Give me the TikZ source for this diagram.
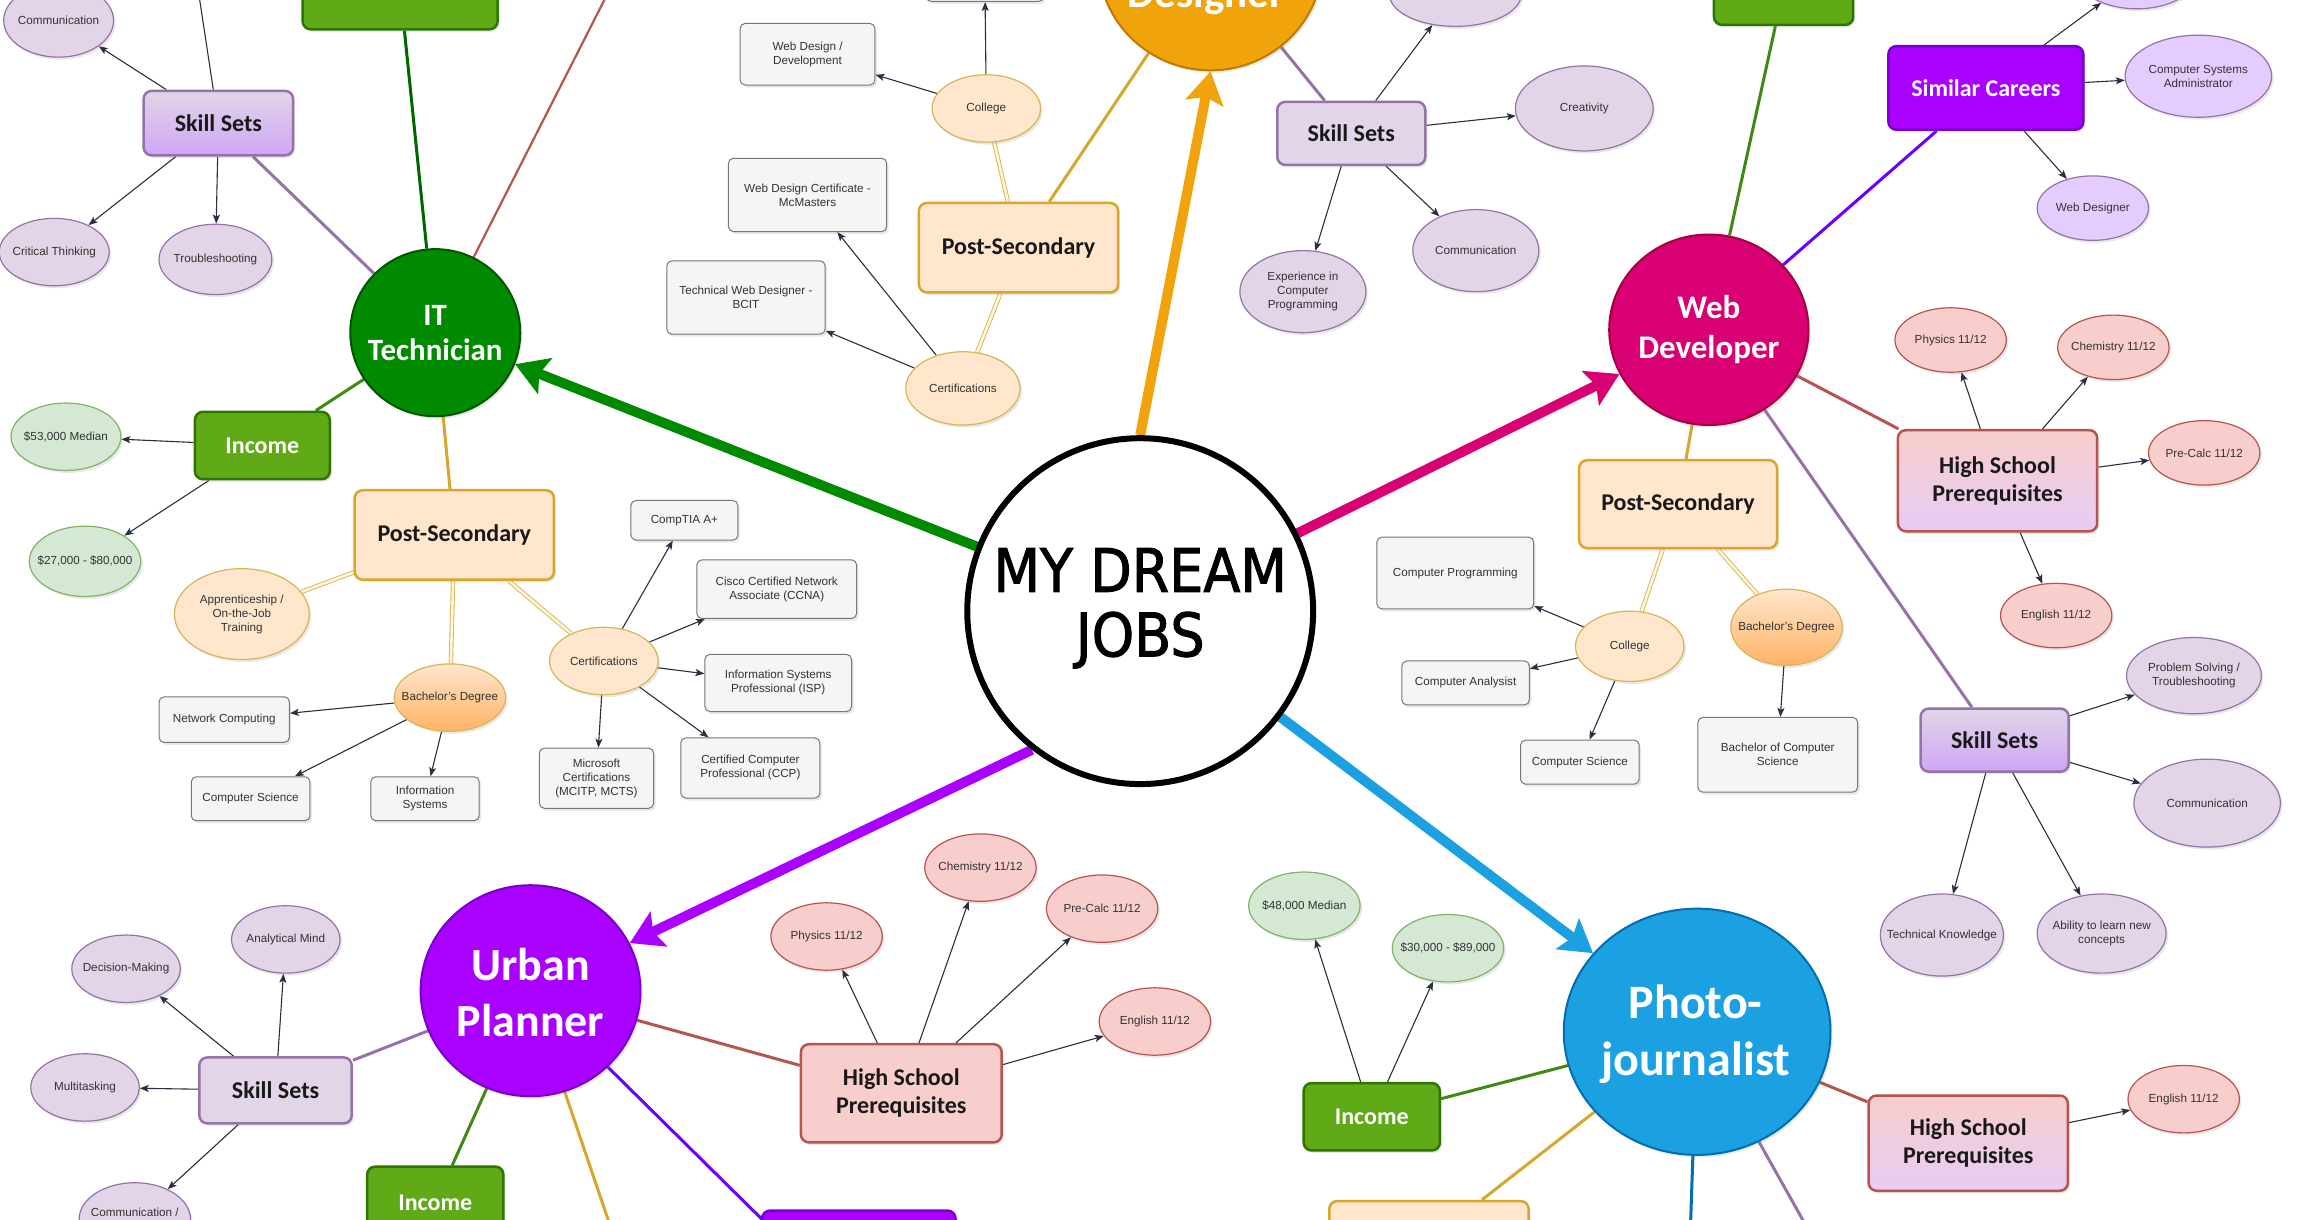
\documentclass[tikz,border=0pt]{standalone}
\usepackage{fontspec}
\setmainfont{Liberation Sans}
\newfontfamily\calib{Carlito}
\newfontfamily\dreamfont{DejaVu Sans}[FakeStretch=0.9,FakeBold=1.6]
\usetikzlibrary{shapes.geometric,arrows.meta,shadows}
\pgfdeclarelayer{bgfill}
\pgfdeclarelayer{background}
\pgfsetlayers{bgfill,background,main}
\definecolor{cIT}{HTML}{008A00}
\definecolor{cITd}{HTML}{005700}
\definecolor{cDS}{HTML}{F0A30A}
\definecolor{cDSd}{HTML}{C07A00}
\definecolor{cWD}{HTML}{D80073}
\definecolor{cWDd}{HTML}{A50040}
\definecolor{cUP}{HTML}{AA00FF}
\definecolor{cUPd}{HTML}{7700CC}
\definecolor{cPJ}{HTML}{1BA1E2}
\definecolor{cPJd}{HTML}{006EAF}
\definecolor{lavf}{HTML}{E1D5E7}
\definecolor{lavd}{HTML}{CFA6F5}
\definecolor{pgray}{HTML}{9673A6}
\definecolor{viof}{HTML}{E5CCFF}
\definecolor{grnf}{HTML}{D5E8D4}
\definecolor{grnb}{HTML}{82B366}
\definecolor{pnkf}{HTML}{F8CECC}
\definecolor{pnkv}{HTML}{E6CCF5}
\definecolor{redb}{HTML}{B85450}
\definecolor{orgf}{HTML}{FFE6CC}
\definecolor{orgd}{HTML}{FFB366}
\definecolor{ellb}{HTML}{D6B656}
\definecolor{psb}{HTML}{D9A52B}
\definecolor{grayf}{HTML}{F5F5F5}
\definecolor{grayb}{HTML}{777777}
\definecolor{incf}{HTML}{60A917}
\definecolor{incb}{HTML}{2D7600}
\definecolor{simf}{HTML}{AA00FF}
\definecolor{simb}{HTML}{7700CC}
\definecolor{arrc}{HTML}{2E2E42}
\definecolor{dblf}{HTML}{FFF6DA}
\definecolor{lgold}{HTML}{D6A62E}
\definecolor{lgreen}{HTML}{3F8A10}
\definecolor{ldgreen}{HTML}{006600}
\definecolor{lviolet}{HTML}{6A00FF}
\definecolor{lred}{HTML}{B85450}
\tikzset{
  wh/.style 2 args={minimum width=#1*1.4656pt, minimum height=#2*1.4656pt},
  shd/.style={drop shadow={opacity=0.18, shadow xshift=2pt, shadow yshift=-2.5pt}},
  sm/.style={font=\fontsize{11.7}{14}\selectfont, text=black!80, align=center},
  el/.style={sm, ellipse, line width=1.2pt, inner xsep=-14pt, inner ysep=0pt, shd},
  lav/.style={el, draw=pgray, fill=lavf},
  vio/.style={el, draw=pgray, fill=viof},
  grn/.style={el, draw=grnb, fill=grnf},
  pnk/.style={el, draw=redb, fill=pnkf},
  org/.style={el, draw=ellb, fill=orgf},
  orgg/.style={el, draw=ellb, top color=orgf, bottom color=orgd},
  gry/.style={sm, rectangle, rounded corners=5pt, draw=grayb, fill=grayf, line width=1pt, inner sep=2pt, shd},
  hd/.style={rectangle, rounded corners=8pt, line width=2.5pt, inner sep=2pt, align=center, font=\calib\bfseries\fontsize{24}{28}\selectfont, text=black!90, shd},
  skill/.style={hd, draw=pgray, fill=lavf},
  skillg/.style={hd, draw=pgray, top color=lavf, bottom color=lavd},
  post/.style={hd, draw=psb, fill=orgf},
  inc/.style={hd, draw=incb, fill=incf, text=white},
  hs/.style={hd, draw=redb, fill=pnkf},
  hsg/.style={hd, draw=redb, top color=pnkf, bottom color=pnkv},
  sim/.style={hd, draw=simb, fill=simf, text=white},
  career/.style={ellipse, line width=2pt, shd},
  ctext/.style={text=white, align=center, inner sep=0pt},
  big/.style={line width=10pt, -{Stealth[length=32pt,width=38pt,inset=6pt]}},
  arr/.style={draw=arrc, line width=1.1pt, -{Stealth[length=9pt,width=7pt,inset=2pt]}},
  thinl/.style={draw=arrc, line width=1.1pt},
  lk/.style={line width=3pt},
  dbl/.style={draw=ellb, line width=0.9pt, double=dblf, double distance=2.6pt}
}
\begin{document}
\begin{tikzpicture}[x=1.4656pt,y=-1.4656pt]
\begin{pgfonlayer}{bgfill}
\fill[white] (0,0) rectangle (1568,832);
\end{pgfonlayer}
\useasboundingbox (0,0) rectangle (1568,832);

% ---------- centre ----------
\node[circle, draw=black, line width=6pt, fill=white, minimum size=236*1.4656pt, shd] (mdj) at (778,417) {};
\node[font=\dreamfont\fontsize{60}{64.5}\selectfont, align=center, inner sep=0pt] (mdjt) at (778,415) {MY DREAM\\JOBS};

% ---------- career circles ----------
\node[career, fill=cIT, draw=cITd, wh={116}{114}] (it) at (297,227) {};
\node[ctext, font=\calib\bfseries\fontsize{31}{35}\selectfont] (itt) at (297,227) {IT\\Technician};
\node[career, fill=cDS, draw=cDSd, wh={153}{150}] (des) at (826,-27) {};
\node[ctext, anchor=base, font=\calib\bfseries\fontsize{43}{48}\selectfont] (dest) at (823,5) {Designer};
\node[career, fill=cWD, draw=cWDd, wh={136}{130}] (wd) at (1166,225) {};
\node[ctext, font=\calib\bfseries\fontsize{33}{40}\selectfont] (wdt) at (1166,225) {Web\\Developer};
\node[career, fill=cUP, draw=cUPd, wh={150}{144}] (up) at (362,676) {};
\node[ctext, font=\calib\bfseries\fontsize{46}{56}\selectfont] (upt) at (362,677) {Urban\\Planner};
\node[career, fill=cPJ, draw=cPJd, wh={182}{168}] (pj) at (1158,704) {};
\node[ctext, font=\calib\bfseries\fontsize{48}{57}\selectfont] (pjt) at (1157,706) {Photo-\\journalist};

% ---------- IT Technician branch ----------
\node[inc, wh={133}{56}] (ittop) at (273,-8) {};
\coordinate (itred) at (420,-15);
\coordinate (itsk) at (134,-15);
\node[skillg, wh={102}{44}] (ss1) at (149,84) {Skill Sets};
\node[lav, wh={75}{50}] (comm1) at (40,14) {Communication};
\node[lav, wh={75}{46}] (crit) at (37,172) {Critical Thinking};
\node[lav, wh={77}{48}] (tshoot) at (147,177) {Troubleshooting};
\node[inc, wh={92}{46}] (inc1) at (179,304) {Income};
\node[grn, wh={75}{46}] (m53) at (45,298) {\$53,000 Median};
\node[grn, wh={76}{48}] (r27) at (58,383) {\$27,000 - \$80,000};
\node[post, wh={136}{61}] (ps1) at (310,365) {Post-Secondary};
\node[org, wh={92}{62}] (appr) at (165,419) {Apprenticeship /\\On-the-Job\\Training};
\node[orgg, wh={76}{46}] (bd1) at (307,476) {Bachelor's Degree};
\node[org, wh={74}{46}] (cert1) at (412,451) {Certifications};
\node[gry, wh={73}{27}] (comptia) at (467,355) {CompTIA A+};
\node[gry, wh={109}{40}] (ccna) at (530,402) {Cisco Certified Network\\Associate (CCNA)};
\node[gry, wh={100}{39}] (isp) at (531,466) {Information Systems\\Professional (ISP)};
\node[gry, wh={95}{41}] (ccp) at (512,524) {Certified Computer\\Professional (CCP)};
\node[gry, wh={78}{41}] (mcitp) at (407,531) {Microsoft\\Certifications\\(MCITP, MCTS)};
\node[gry, wh={89}{31}] (netc) at (153,491) {Network Computing};
\node[gry, wh={81}{30}] (cs1) at (171,545) {Computer Science};
\node[gry, wh={74}{30}] (infs) at (290,545) {Information\\Systems};

% ---------- Designer branch ----------
\node[org, wh={74}{46}] (dcol) at (673,74) {College};
\node[gry, wh={80}{30}] (dtop) at (672,-14) {};
\node[gry, wh={92}{42}] (wdd) at (551,37) {Web Design /\\Development};
\node[post, wh={136}{61}] (ps2) at (695,169) {Post-Secondary};
\node[org, wh={78}{50}] (dcert) at (657,265) {Certifications};
\node[gry, wh={108}{50}] (mcm) at (551,133) {Web Design Certificate -\\McMasters};
\node[gry, wh={108}{50}] (bcit) at (509,203) {Technical Web Designer -\\BCIT};
\node[skill, wh={101}{43}] (ss2) at (922,91) {Skill Sets};
\node[lav, wh={90}{44}] (dtopell) at (993,-4) {};
\node[lav, wh={94}{58}] (creat) at (1081,74) {Creativity};
\node[lav, wh={86}{56}] (comm2) at (1007,171) {Communication};
\node[lav, wh={86}{56}] (exp) at (889,199) {Experience in\\Computer\\Programming};

% ---------- Web Developer branch ----------
\node[inc, wh={95}{50}] (wdtop) at (1217,-8) {};
\node[sim, wh={133}{57}] (sc1) at (1355,60) {Similar Careers};
\node[vio, wh={80}{44}] (sctop) at (1458,-16) {};
\node[vio, wh={100}{56}] (csa) at (1500,52) {Computer Systems\\Administrator};
\node[vio, wh={76}{44}] (wdes) at (1428,142) {Web Designer};
\node[hsg, wh={136}{69}] (hs1) at (1363,328) {High School\\Prerequisites};
\node[pnk, wh={76}{44}] (phy1) at (1331,232) {Physics 11/12};
\node[pnk, wh={76}{44}] (chem1) at (1442,237) {Chemistry 11/12};
\node[pnk, wh={76}{44}] (pre1) at (1504,309) {Pre-Calc 11/12};
\node[pnk, wh={76}{44}] (eng1) at (1403,420) {English 11/12};
\node[post, wh={135}{60}] (ps3) at (1145,344) {Post-Secondary};
\node[org, wh={74}{48}] (wcol) at (1112,441) {College};
\node[orgg, wh={76}{52}] (bd2) at (1219,428) {Bachelor's Degree};
\node[gry, wh={107}{49}] (cprog) at (993,391) {Computer Programming};
\node[gry, wh={87}{30}] (canal) at (1000,466) {Computer Analysist};
\node[gry, wh={81}{30}] (cs2) at (1078,520) {Computer Science};
\node[gry, wh={109}{51}] (bcs) at (1213,515) {Bachelor of Computer\\Science};
\node[skillg, wh={101}{43}] (ss3) at (1361,505) {Skill Sets};
\node[lav, wh={92}{52}] (prob) at (1497,461) {Problem Solving /\\Troubleshooting};
\node[lav, wh={100}{60}] (comm3) at (1506,548) {Communication};
\node[lav, wh={84}{56}] (tech) at (1325,638) {Technical Knowledge};
\node[lav, wh={88}{54}] (abil) at (1434,637) {Ability to learn new\\concepts};

% ---------- Urban Planner branch ----------
\node[skill, wh={104}{45}] (ss4) at (188,744) {Skill Sets};
\node[lav, wh={74}{46}] (dec) at (86,661) {Decision-Making};
\node[lav, wh={74}{46}] (anal) at (195,641) {Analytical Mind};
\node[lav, wh={74}{46}] (multi) at (58,742) {Multitasking};
\node[lav, wh={76}{50}] (comm4) at (92,832) {Communication /\\Collaboration};
\node[inc, wh={93}{50}] (inc2) at (297,821) {Income};
\coordinate (upps) at (425,862);
\node[sim, wh={132}{52}] (sc2) at (586,852) {};
\coordinate (upsc) at (521,833);
\node[hs, wh={137}{67}] (hs2) at (615,746) {High School\\Prerequisites};
\node[pnk, wh={76}{46}] (phy2) at (564,639) {Physics 11/12};
\node[pnk, wh={76}{46}] (chem2) at (669,592) {Chemistry 11/12};
\node[pnk, wh={76}{46}] (pre2) at (752,620) {Pre-Calc 11/12};
\node[pnk, wh={76}{46}] (eng2) at (788,697) {English 11/12};

% ---------- Photojournalist branch ----------
\node[inc, wh={93}{46}] (inc3) at (936,762) {Income};
\node[grn, wh={76}{46}] (m48) at (890,618) {\$48,000 Median};
\node[grn, wh={76}{46}] (r30) at (988,647) {\$30,000 - \$89,000};
\node[post, wh={136}{55}] (ps4) at (975,847) {};
\coordinate (pjbl) at (1153,850);
\coordinate (pjpg) at (1240,850);
\node[hsg, wh={136}{65}] (hs3) at (1343,780) {High School\\Prerequisites};
\node[pnk, wh={76}{46}] (eng3) at (1490,750) {English 11/12};

% ---------- connectors ----------
\begin{pgfonlayer}{background}
% main arrows
\draw[big, cIT] (mdj) -- (it);
\draw[big, cDS] (mdj.north) -- (des.south);
\draw[big, cWD] (mdj) -- (wd);
\draw[big, cUP] (mdj.232) -- (up);
\draw[big, cPJ] (mdj) -- (pj);
% IT
\draw[lk, ldgreen] (it) -- (ittop);
\draw[lk, lred, line width=2.2pt] (it) -- (itred);
\draw[lk, pgray] (it) -- (ss1);
\draw[lk, lgreen] (it) -- (inc1);
\draw[lk, lgold] (it) -- (ps1);
\draw[thinl] (itsk) -- (ss1);
\draw[arr] (ss1) -- (comm1);
\draw[arr] (ss1) -- (crit);
\draw[arr] (ss1) -- (tshoot);
\draw[arr] (inc1) -- (m53);
\draw[arr] (inc1) -- (r27);
\draw[dbl] (ps1) -- (appr);
\draw[dbl] (ps1) -- (bd1);
\draw[dbl] (ps1) -- (cert1);
\draw[arr] (cert1) -- (comptia);
\draw[arr] (cert1) -- (ccna);
\draw[arr] (cert1) -- (isp);
\draw[arr] (cert1) -- (ccp);
\draw[arr] (cert1) -- (mcitp);
\draw[arr] (bd1) -- (netc);
\draw[arr] (bd1) -- (cs1);
\draw[arr] (bd1) -- (infs);
% Designer
\draw[lk, lgold] (des) -- (ps2);
\draw[lk, pgray] (des) -- (ss2);
\draw[arr] (ss2) -- (dtopell);
\draw[arr] (ss2) -- (creat);
\draw[arr] (ss2) -- (comm2);
\draw[arr] (ss2) -- (exp);
\draw[dbl] (ps2) -- (dcol);
\draw[dbl] (ps2) -- (dcert);
\draw[arr] (dcol) -- (dtop);
\draw[arr] (dcol) -- (wdd);
\draw[arr] (dcert) -- (mcm);
\draw[arr] (dcert) -- (bcit);
% Web Developer
\draw[lk, lgreen] (wd) -- (wdtop);
\draw[lk, lviolet] (wd) -- (sc1);
\draw[arr] (sc1) -- (sctop);
\draw[arr] (sc1) -- (csa);
\draw[arr] (sc1) -- (wdes);
\draw[lk, lred] (wd) -- (hs1);
\draw[arr] (hs1) -- (phy1);
\draw[arr] (hs1) -- (chem1);
\draw[arr] (hs1) -- (pre1);
\draw[arr] (hs1) -- (eng1);
\draw[lk, lgold] (wd) -- (ps3);
\draw[dbl] (ps3) -- (wcol);
\draw[dbl] (ps3) -- (bd2);
\draw[arr] (wcol) -- (cprog);
\draw[arr] (wcol) -- (canal);
\draw[arr] (wcol) -- (cs2);
\draw[arr] (bd2) -- (bcs);
\draw[lk, pgray] (wd) -- (ss3);
\draw[arr] (ss3) -- (prob);
\draw[arr] (ss3) -- (comm3);
\draw[arr] (ss3) -- (tech);
\draw[arr] (ss3) -- (abil);
% Urban Planner
\draw[lk, pgray] (up) -- (ss4);
\draw[arr] (ss4) -- (dec);
\draw[arr] (ss4) -- (anal);
\draw[arr] (ss4) -- (multi);
\draw[arr] (ss4) -- (comm4);
\draw[lk, lgreen] (up) -- (inc2);
\draw[lk, lgold] (up) -- (upps);
\draw[lk, lviolet] (up) -- (upsc);
\draw[lk, lred] (up) -- (hs2);
\draw[arr] (hs2) -- (phy2);
\draw[arr] (hs2) -- (chem2);
\draw[arr] (hs2) -- (pre2);
\draw[arr] (hs2) -- (eng2);
% Photojournalist
\draw[lk, lgreen] (pj) -- (inc3);
\draw[arr] (inc3) -- (m48);
\draw[arr] (inc3) -- (r30);
\draw[lk, lgold] (pj) -- (ps4);
\draw[lk, cPJd] (pj) -- (pjbl);
\draw[lk, pgray] (pj) -- (pjpg);
\draw[lk, lred] (pj) -- (hs3);
\draw[arr] (hs3) -- (eng3);
\end{pgfonlayer}
\end{tikzpicture}
\end{document}
